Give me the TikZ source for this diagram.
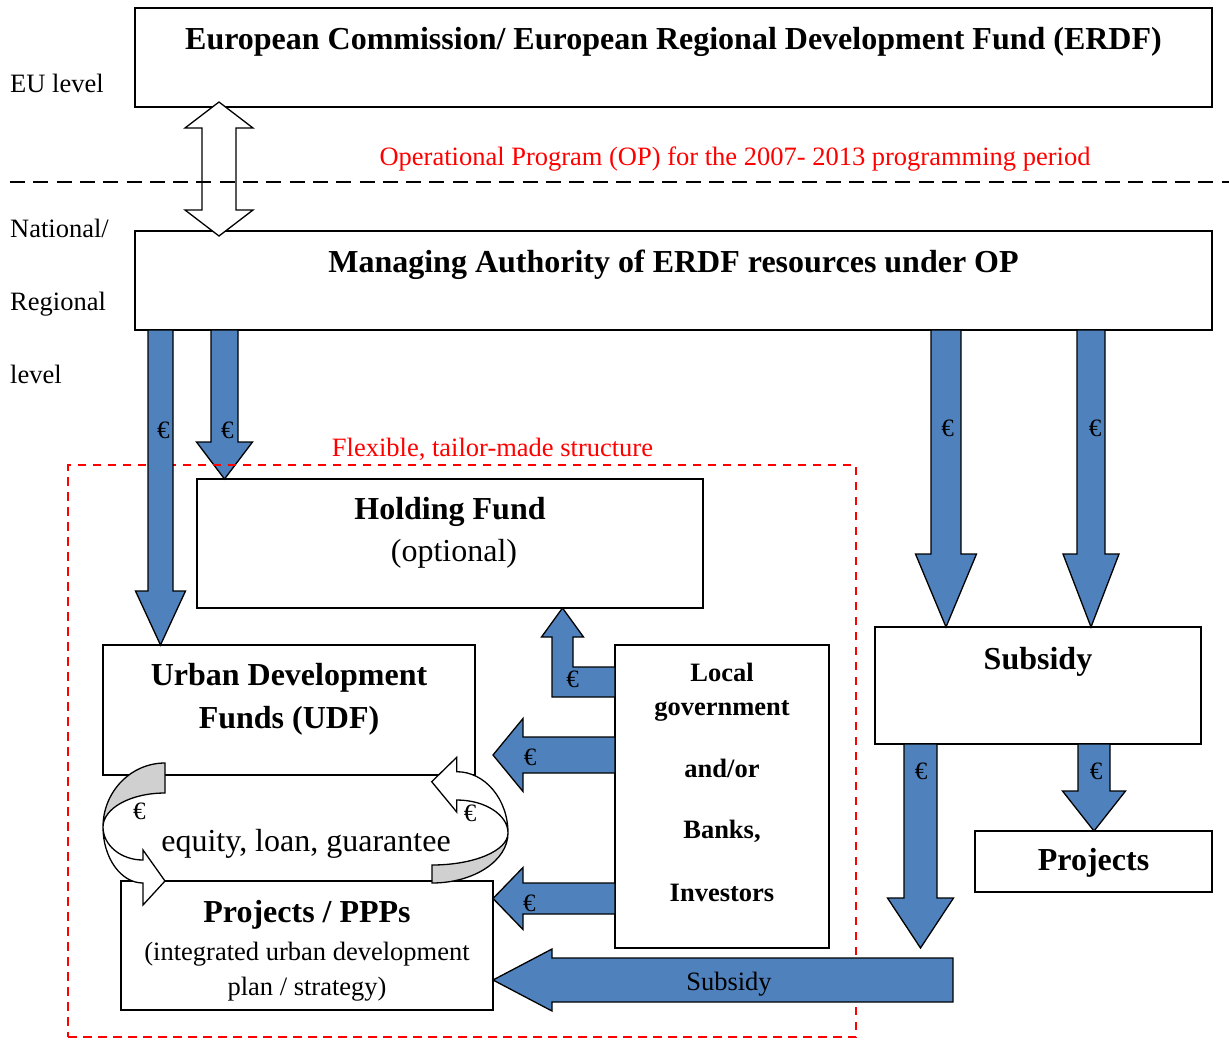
\documentclass[tikz,border=0pt]{standalone}
\usepackage{fontspec}
\setmainfont{Liberation Serif}
\usetikzlibrary{calc}

\definecolor{flowblue}{RGB}{79,129,189}
\definecolor{bandgray}{RGB}{208,208,208}

\tikzset{
  box/.style={draw, line width=1.3pt, fill=white, inner sep=0pt, outer sep=0pt},
  big/.style={font=\fontsize{32}{38}\selectfont, inner sep=0pt, anchor=base},
  bigb/.style={font=\fontsize{32}{38}\selectfont\bfseries, inner sep=0pt, anchor=base},
  small/.style={font=\fontsize{26.5}{32}\selectfont, inner sep=0pt, anchor=base},
  smallb/.style={font=\fontsize{26.5}{32}\selectfont\bfseries, inner sep=0pt, anchor=base},
  note/.style={small, text=red},
  euro/.style={font=\fontsize{25}{30}\selectfont, inner sep=0pt},
  blockarrow/.style={draw, line width=1.3pt, fill=flowblue},
  hollow/.style={draw, line width=1.3pt, fill=white},
  band/.style={draw, line width=1.3pt, fill=bandgray},
}

% downward block arrow: start, tip, half shaft, half head, head length
\newcommand\downblock[5]{%
  \draw[blockarrow] let \p1=(#1), \p2=(#2) in
    (\x1-#3pt,\y1) -- (\x1-#3pt,\y2+#5pt) -- (\x1-#4pt,\y2+#5pt) -- (\x1,\y2)
    -- (\x1+#4pt,\y2+#5pt) -- (\x1+#3pt,\y2+#5pt) -- (\x1+#3pt,\y1) -- cycle;}
% leftward block arrow: start, tip, half shaft, half head, head length
\newcommand\leftblock[5]{%
  \draw[blockarrow] let \p1=(#1), \p2=(#2) in
    (\x1,\y1+#3pt) -- (\x2+#5pt,\y1+#3pt) -- (\x2+#5pt,\y1+#4pt) -- (\x2,\y1)
    -- (\x2+#5pt,\y1-#4pt) -- (\x2+#5pt,\y1-#3pt) -- (\x1,\y1-#3pt) -- cycle;}

\begin{document}
\begin{tikzpicture}[x=1pt, y=-1pt]
\useasboundingbox (0,0) rectangle (1229,1039);

% ---- boxes
\node[box, minimum width=1077pt, minimum height=99pt] (erdf) at (673.5,57.5) {};
\node[box, minimum width=1077pt, minimum height=99pt] (ma) at (673.5,280.5) {};
\node[box, minimum width=506pt, minimum height=129pt] (hf) at (450,543.5) {};
\node[box, minimum width=372pt, minimum height=130pt] (udf) at (289,710) {};
\node[box, minimum width=372pt, minimum height=129pt] (ppp) at (307,945.5) {};
\node[box, minimum width=214pt, minimum height=303pt] (lg) at (722,796.5) {};
\node[box, minimum width=326pt, minimum height=117pt] (sub) at (1038,685.5) {};
\node[box, minimum width=237pt, minimum height=61pt] (prj) at (1093.5,861.5) {};

% free ends of the subsidy flow
\coordinate (subend) at (920.5,948);
\coordinate (subsrc) at (953,980);
\coordinate (toudf) at (493,755);

% ---- EU <-> national double arrow
\draw[hollow] let \p1=([yshift=5pt]219,0 |- erdf.south), \p2=([yshift=-5pt]219,0 |- ma.north) in
  (\x1,\y1) -- (\x1+34pt,\y1-26pt) -- (\x1+17pt,\y1-26pt) -- (\x1+17pt,\y2+26pt)
  -- (\x1+34pt,\y2+26pt) -- (\x1,\y2) -- (\x1-34pt,\y2+26pt) -- (\x1-17pt,\y2+26pt)
  -- (\x1-17pt,\y1-26pt) -- (\x1-34pt,\y1-26pt) -- cycle;

% ---- managing authority -> holding fund (lies under the frame)
\downblock{224.5,0 |- ma.south}{224.5,0 |- hf.north}{13.5}{28}{37}

% ---- flexible structure frame
\node[draw=red, line width=1.3pt, dash pattern=on 8.5pt off 6.5pt, inner sep=0pt,
      minimum width=788pt, minimum height=572pt] (flex) at (462,751) {};

% ---- other money flows from the managing authority
\downblock{160.5,0 |- ma.south}{160.5,0 |- udf.north}{12.5}{25}{54}
\downblock{946,0 |- ma.south}{946,0 |- sub.north}{15}{30.5}{73}
\downblock{1091,0 |- ma.south}{1091,0 |- sub.north}{14}{28}{73}

% ---- subsidy flows
\downblock{920.5,0 |- sub.south}{subend}{16.5}{33}{50}
\downblock{1094,0 |- sub.south}{1094,0 |- prj.north}{16}{31.5}{40}
\leftblock{subsrc}{ppp.east |- subsrc}{22}{31}{59}

% ---- co-financing from local government / banks / investors
\leftblock{lg.west |- toudf}{toudf}{18}{36.5}{30}
\leftblock{lg.west |- 0,898.5}{ppp.east |- 0,898.5}{15.5}{31}{30}
\draw[blockarrow] let \p1=(lg.west |- 0,682), \p2=(562.5,0 |- hf.south) in
  (\x1,\y1+15pt) -- (\x2+10.5pt,\y1+15pt) -- (\x2+10.5pt,\y2-29pt) -- (\x2+21pt,\y2-29pt)
  -- (\x2,\y2) -- (\x2-21pt,\y2-29pt) -- (\x2-10.5pt,\y2-29pt) -- (\x2-10.5pt,\y1-15pt)
  -- (\x1,\y1-15pt) -- cycle;

% ---- revolving loop between UDF and projects
\draw[band] (165,763) .. controls (130.8,763) and (103,791.7) .. (103,827)
  .. controls (103,808.2) and (130.8,793) .. (165,793) -- cycle;
\draw[hollow] (103,827) .. controls (103,857.9) and (120.9,883) .. (143,883)
  -- (143,905) -- (165,881) -- (143,850) -- (143,860)
  .. controls (120.9,860) and (103,845.2) .. (103,827) -- cycle;
\draw[band] (432,883) .. controls (474,883) and (508,860.6) .. (508,833)
  .. controls (508,850.7) and (474,865) .. (432,865) -- cycle;
\draw[hollow] (508,833) .. controls (508,799.2) and (485,771.7) .. (456.7,771.7)
  -- (456.7,757.3) -- (431.7,781.7) -- (456.7,812) -- (456.7,800)
  .. controls (485,800) and (508,814.8) .. (508,833) -- cycle;

% ---- level divider
\draw[line width=1.3pt, dash pattern=on 15pt off 8.3pt] (10,182) -- (1229,182);

% ---- texts
\node[bigb] (t-erdf) at (673.5,49) {European Commission/ European Regional Development Fund (ERDF)};
\node[bigb] (t-ma) at (673.5,272) {Managing Authority of ERDF resources under OP};
\node[small, anchor=base west] (t-eu) at (10,92) {EU level};
\node[small, anchor=base west] (t-nat) at (10,237) {National/};
\node[small, anchor=base west] (t-reg) at (10,310) {Regional};
\node[small, anchor=base west] (t-lev) at (10,383) {level};
\node[note] (t-op) at (735,165) {Operational Program (OP) for the 2007- 2013 programming period};
\node[note] (t-flex) at (492.5,456) {Flexible, tailor-made structure};

\node[bigb] (t-hf) at (450,519) {Holding Fund};
\node[big] (t-opt) at (454,561) {(optional)};
\node[bigb] (t-udf1) at (289,685) {Urban Development};
\node[bigb] (t-udf2) at (289,728) {Funds (UDF)};
\node[big] (t-loop) at (306,851) {equity, loan, guarantee};
\node[bigb] (t-ppp) at (307,922) {Projects / PPPs};
\node[small] (t-ppp2) at (307,960) {(integrated urban development};
\node[small] (t-ppp3) at (307,995) {plan / strategy)};

\node[smallb] (t-lg1) at (722,681) {Local};
\node[smallb] (t-lg2) at (722,715) {government};
\node[smallb] (t-lg3) at (722,777) {and/or};
\node[smallb] (t-lg4) at (722,838) {Banks,};
\node[smallb] (t-lg5) at (722,901) {Investors};

\node[bigb] (t-sub) at (1038,669) {Subsidy};
\node[bigb] (t-prj) at (1093.5,870) {Projects};
\node[small] (t-subflow) at (729,990) {Subsidy};

% ---- euro marks on the flows
\node[euro] (e1) at (163.3,430) {€};
\node[euro] (e2) at (227.3,430) {€};
\node[euro] (e3) at (947.7,428.5) {€};
\node[euro] (e4) at (1095,428.5) {€};
\node[euro] (e5) at (572.7,679) {€};
\node[euro] (e6) at (530,757) {€};
\node[euro] (e7) at (529.3,903) {€};
\node[euro] (e8) at (921,771.5) {€};
\node[euro] (e9) at (1096,771.5) {€};
\node[euro] (e10) at (139.3,811.5) {€};
\node[euro] (e11) at (470,813.5) {€};
\end{tikzpicture}
\end{document}
